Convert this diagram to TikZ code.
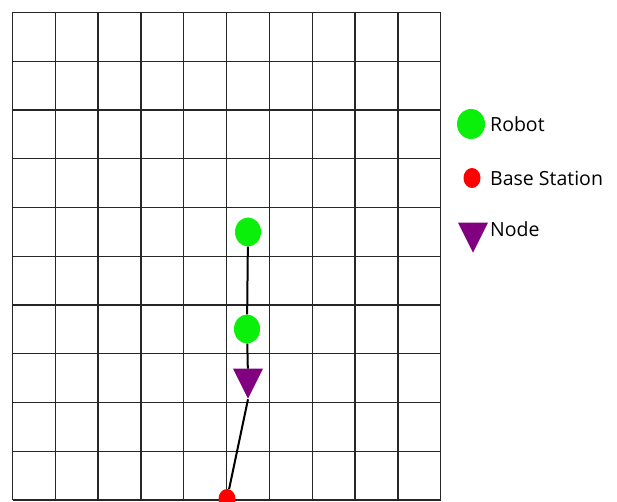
\documentclass[tikz,border=0pt]{standalone}
\usepackage{fontspec}
\setmainfont{Open Sans}
\usepackage{xcolor}
\usetikzlibrary{shapes.geometric}

\definecolor{robotgreen}{RGB}{10,240,10}
\definecolor{basered}{RGB}{255,0,0}
\definecolor{nodepurple}{RGB}{128,0,128}

\begin{document}
\begin{tikzpicture}[x=1pt,y=-1pt,
        gridline/.style={black!85,line width=1.3pt},
        link/.style={black,line width=2pt},
        robot/.style={ellipse,fill=robotgreen,inner sep=0,minimum width=26,minimum height=29},
        basest/.style={ellipse,fill=basered,inner sep=0,minimum width=17,minimum height=20},
        nodemark/.style={isosceles triangle,isosceles triangle stretches,shape border rotate=270,
            fill=nodepurple,inner sep=0,minimum width=30,minimum height=30},
        legtext/.style={anchor=base west,inner sep=0,font=\fontsize{19.5}{22}\selectfont}]
        \useasboundingbox (0,0) rectangle (617,502);
        \clip (0,0) rectangle (617,502);
        \fill[white] (0,0) rectangle (617,502);
        % grid
        \foreach \i in {0,...,10} {
            \draw[gridline] ({12.5+42.82*\i},12.5) -- ({12.5+42.82*\i},500);
            \draw[gridline] (12.5,{12.5+48.75*\i}) -- (440.7,{12.5+48.75*\i});
        }
        % robots, node and base station
        \node[robot] (robot1) at (248,232) {};
        \node[robot] (robot2) at (247,329) {};
        \node[nodemark] (node1) at (248,378) {};
        \node[basest] (base) at (227,499) {};
        \draw[link] (robot1) -- (robot2);
        \draw[link] (robot2) -- (node1);
        \draw[link] (node1.apex) -- (base);
        % legend
        \node[robot,minimum width=28,minimum height=30] (legrobot) at (471,124) {};
        \node[legtext] (legrobottext) at (490,131.5) {Robot};
        \node[basest] (legbase) at (472,178) {};
        \node[legtext] (legbasetext) at (490,186) {Base Station};
        \node[nodemark] (legnode) at (473,232) {};
        \node[legtext] (legnodetext) at (490,236.7) {Node};
\end{tikzpicture}
\end{document}
